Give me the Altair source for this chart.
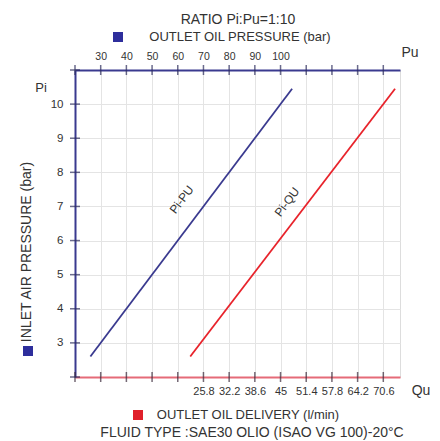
import altair as alt
import pandas as pd

FONT = "Liberation Sans"
TXT = "#333333"
NAVY = "#3a3a8f"
RED = "#e8232b"

# ---- data ----
pi_line = [2.6, 10.45]          # inlet air pressure (bar)
pu_line = [26.0, 104.5]         # outlet oil pressure (bar)
qu_line = [22.5, 73.5]          # outlet oil delivery (l/min)

pu_ticks = [20, 30, 40, 50, 60, 70, 80, 90, 100, 110, 120, 130, 140]
qu_ticks = [-6.2, 0.2, 6.6, 13.0, 19.4, 25.8, 32.2, 38.6, 45.0, 51.4, 57.8, 64.2, 70.6]
pi_ticks = [2, 3, 4, 5, 6, 7, 8, 9, 10, 11]

pu_domain = [20, 146.5]
qu_domain = [-6.2, 74.73]
pi_domain = [2, 11]

line_labels_pu = {"text": ["Pi-PU"], "pu": [61.5], "pi": [7.2]}
line_labels_qu = {"text": ["Pi-QU"], "qu": [46.6], "pi": [7.13]}

# ---- scales & axes ----
pu_scale = alt.Scale(domain=pu_domain, nice=False, zero=False)
qu_scale = alt.Scale(domain=qu_domain, nice=False, zero=False)
pi_scale = alt.Scale(domain=pi_domain, nice=False, zero=False)

pu_axis = alt.Axis(orient="top", values=pu_ticks, title="",
                   labelExpr="datum.value >= 30 && datum.value <= 100 ? datum.label : ''",
                   ticks=False, labelPadding=9, labelFontSize=10.5, labelColor=TXT,
                   labelFont=FONT, domainColor=NAVY, domainWidth=2,
                   grid=True, gridColor="#e4e4e4", gridWidth=1)
qu_axis = alt.Axis(orient="bottom", values=qu_ticks, title="",
                   labelExpr="datum.value >= 25 ? format(datum.value, '.3~g') : ''",
                   ticks=False, labelPadding=8, labelFontSize=11, labelColor=TXT,
                   labelFont=FONT, domainColor="#e56b78", domainWidth=2, grid=False)
pi_axis = alt.Axis(orient="left", values=pi_ticks, title="",
                   labelExpr="datum.value >= 3 && datum.value <= 10 ? datum.label : ''",
                   ticks=False, labelPadding=12, labelFontSize=11.5, labelColor=TXT,
                   labelFont=FONT, domainColor=NAVY, domainWidth=2,
                   grid=True, gridColor="#e4e4e4", gridWidth=1)

Y = alt.Y("pi:Q", scale=pi_scale, axis=pi_axis)
XPU = alt.X("pu:Q", scale=pu_scale, axis=pu_axis)
XQU = alt.X("qu:Q", scale=qu_scale, axis=qu_axis)


def label(text, x, y, size, color=TXT, angle=0):
    return alt.Chart(pd.DataFrame({"t": [text]})).mark_text(
        font=FONT, fontSize=size, color=color, angle=angle,
        align="center", baseline="middle").encode(
        text="t:N", x=alt.value(x), y=alt.value(y))


def square(x, y, color):
    return alt.Chart(pd.DataFrame({"t": [0]})).mark_square(
        size=100, color=color, opacity=1).encode(x=alt.value(x), y=alt.value(y))


pu_tick_df = pd.DataFrame({"pu": pu_ticks})
pi_tick_df = pd.DataFrame({"pi": pi_ticks})

top_ticks = alt.Chart(pu_tick_df).mark_tick(
    orient="vertical", size=10, thickness=1.5, color="#2c2c5c").encode(
    x=XPU, y=alt.YDatum(pi_domain[1], scale=pi_scale, axis=pi_axis))
bottom_ticks = alt.Chart(pu_tick_df).mark_tick(
    orient="vertical", size=10, thickness=1.5, color="#3a2a3a").encode(
    x=XPU, y=alt.YDatum(pi_domain[0], scale=pi_scale, axis=pi_axis))
left_ticks = alt.Chart(pi_tick_df).mark_tick(
    orient="horizontal", size=10, thickness=1.5, color="#2c2c5c").encode(
    x=alt.XDatum(pu_domain[0], scale=pu_scale, axis=pu_axis), y=Y)

blue_line = alt.Chart(pd.DataFrame({"pu": pu_line, "pi": pi_line})).mark_line(
    color=NAVY, strokeWidth=1.8).encode(x=XPU, y=Y)
blue_text = alt.Chart(pd.DataFrame(line_labels_pu)).mark_text(
    font=FONT, fontSize=12, color=TXT, angle=307).encode(x=XPU, y=Y, text="text:N")

red_line = alt.Chart(pd.DataFrame({"qu": qu_line, "pi": pi_line})).mark_line(
    color=RED, strokeWidth=1.8).encode(x=XQU, y=Y)
red_text = alt.Chart(pd.DataFrame(line_labels_qu)).mark_text(
    font=FONT, fontSize=12, color=TXT, angle=307).encode(x=XQU, y=Y, text="text:N")

blue_group = alt.layer(
    top_ticks, bottom_ticks, left_ticks, blue_line, blue_text,
    label("RATIO Pi:Pu=1:10", 163, -50, 14),
    square(43, -33, "#2e2e9c"),
    label("OUTLET OIL PRESSURE (bar)", 165, -33, 13),
    label("Pu", 335, -17, 14),
    label("Pi", -34, 18, 13),
    label("INLET AIR PRESSURE (bar)", -48, 182, 14, angle=270),
    square(-47, 281, "#2e2e9c"),
    label("Qu", 346, 321, 14),
    square(63, 345, "#e0202a"),
    label("OUTLET OIL DELIVERY (l/min)", 173, 345, 13),
    label("FLUID TYPE :SAE30 OLIO (ISAO VG 100)-20°C", 177, 363, 14),
)
red_group = alt.layer(red_line, red_text)

chart = alt.layer(blue_group, red_group).resolve_scale(x="independent").properties(
    width=325, height=307,
    autosize=alt.AutoSizeParams(type="none"),
    padding={"left": 67, "top": 62, "right": 31, "bottom": 64},
).configure_view(stroke=None).configure(background="white")

chart.save("out.html", embed_options={"renderer": "svg", "actions": False})
